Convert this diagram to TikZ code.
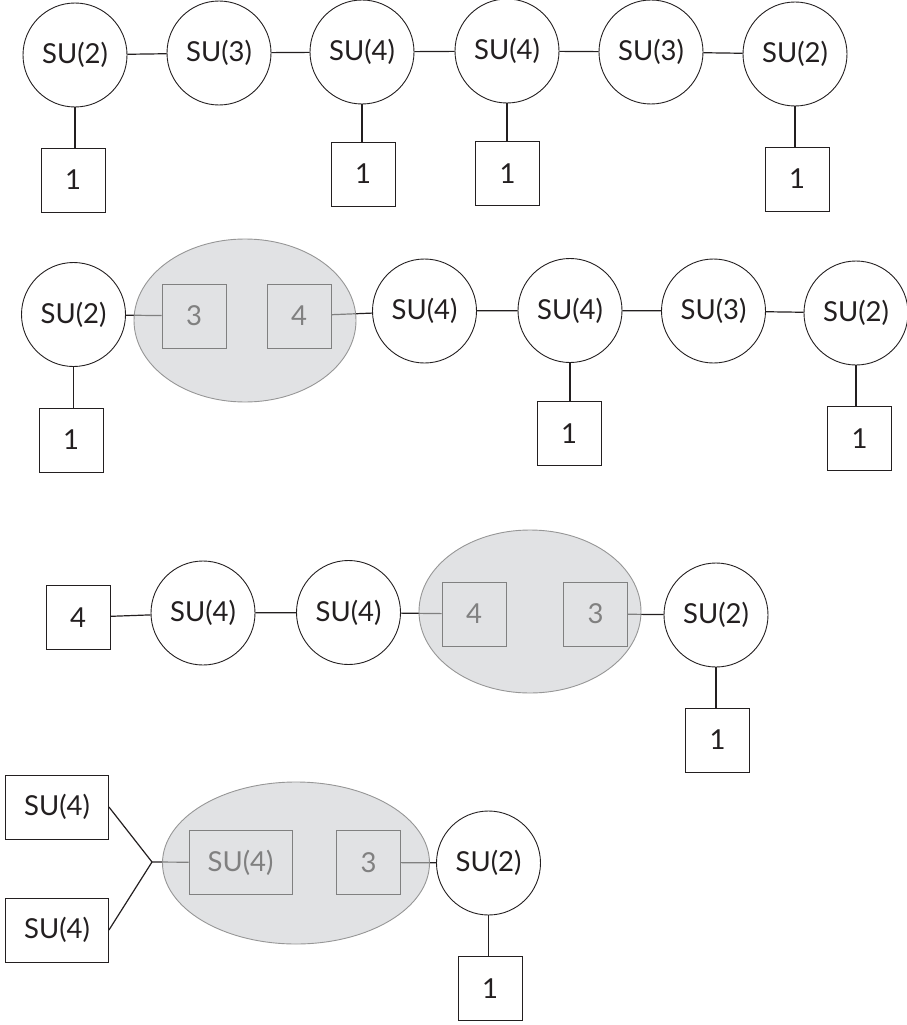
\documentclass[tikz,border=0pt]{standalone}
\usepackage{fontspec}
\setmainfont{Lato}
\usetikzlibrary{shapes.geometric}
\pgfdeclarelayer{lines}
\pgfdeclarelayer{ellayer}
\pgfdeclarelayer{inner}
\pgfsetlayers{lines,ellayer,inner,main}
\definecolor{ellfill}{RGB}{225,226,228}
\definecolor{elledge}{RGB}{150,150,150}
\definecolor{graybox}{RGB}{128,128,128}
\definecolor{ink}{RGB}{35,31,32}
\tikzset{
  lbl/.style={font=\fontsize{27.5}{30}\selectfont},
  grp/.style={circle,draw=ink,line width=0.9pt,minimum size=104pt,inner sep=0pt,lbl,text=ink},
  flav/.style={rectangle,draw=ink,line width=0.9pt,minimum size=64pt,inner sep=0pt,lbl,text=ink},
  wflav/.style={flav,minimum width=103pt},
  gflav/.style={flav,draw=graybox,text=graybox},
  gwflav/.style={gflav,minimum width=103pt},
  blob/.style={ellipse,fill=ellfill,draw=elledge,line width=0.9pt,inner sep=0pt},
  link/.style={draw=ink,line width=1.2pt},
  glink/.style={draw=graybox,line width=1.2pt},
}
\begin{document}
\begin{tikzpicture}[x=1pt,y=-1pt]
\useasboundingbox (0,0) rectangle (906,1025);

% ---------- Row 1 ----------
\node[grp] (a1) at (75,55) {SU(2)};
\node[grp] (a2) at (219,53) {SU(3)};
\node[grp] (a3) at (362,52) {SU(4)};
\node[grp] (a4) at (507,51) {SU(4)};
\node[grp] (a5) at (651,52) {SU(3)};
\node[grp] (a6) at (795,54) {SU(2)};
\node[flav] (f1) at (73,180) {1};
\node[flav] (f3) at (363,174) {1};
\node[flav] (f4) at (507.5,173.5) {1};
\node[flav] (f6) at (797,179) {1};

% ---------- Row 2 ----------
\node[grp] (b1) at (73.5,314.5) {SU(2)};
\begin{pgfonlayer}{ellayer}
\node[blob,minimum width=222pt,minimum height=163pt] (eB) at (245,320.5) {};
\end{pgfonlayer}
\node[gflav] (q3) at (194,316) {3};
\node[gflav] (q4) at (299,316) {4};
\node[grp] (b4) at (424.5,311) {SU(4)};
\node[grp] (b5) at (570,310.5) {SU(4)};
\node[grp] (b6) at (713.5,311) {SU(3)};
\node[grp] (b7) at (856,313) {SU(2)};
\node[flav] (g1) at (71,440) {1};
\node[flav] (g5) at (569,433.5) {1};
\node[flav] (g7) at (859.5,438.5) {1};

% ---------- Row 3 ----------
\node[flav] (s4) at (78,617.5) {4};
\node[grp] (c1) at (203,613) {SU(4)};
\node[grp] (c2) at (348.5,612.5) {SU(4)};
\begin{pgfonlayer}{ellayer}
\node[blob,minimum width=222pt,minimum height=163pt] (eC) at (530,611.5) {};
\end{pgfonlayer}
\node[gflav] (r4) at (474,614) {4};
\node[gflav] (r3) at (595.5,614) {3};
\node[grp] (c3) at (716,615) {SU(2)};
\node[flav] (h1) at (717.6,740) {1};

% ---------- Row 4 ----------
\node[wflav] (t1) at (57,807) {SU(4)};
\node[wflav] (t2) at (57,930) {SU(4)};
\coordinate (j) at (152,862);
\begin{pgfonlayer}{ellayer}
\node[blob,minimum width=267pt,minimum height=162pt] (eD) at (296,863) {};
\end{pgfonlayer}
\node[gwflav] (u4) at (240.5,862.5) {SU(4)};
\node[gflav] (u3) at (368.7,862.5) {3};
\node[grp] (d1) at (488.5,863) {SU(2)};
\node[flav] (k1) at (490,988.5) {1};

% ---------- connectors (black) ----------
\begin{pgfonlayer}{lines}
\draw[link] (a1) -- (a2);
\draw[link] (a2) -- (a3);
\draw[link] (a3) -- (a4);
\draw[link] (a4) -- (a5);
\draw[link] (a5) -- (a6);
\draw[link] (a1.south) -- (a1.south |- f1.north);
\draw[link] (a3.south) -- (a3.south |- f3.north);
\draw[link] (a4.south) -- (a4.south |- f4.north);
\draw[link] (a6.south) -- (a6.south |- f6.north);

\draw[link] (b1) -- (q3);
\draw[link] (q4) -- (b4);
\draw[link] (b4) -- (b5);
\draw[link] (b5) -- (b6);
\draw[link] (b6) -- (b7);
\draw[link] (b1.south) -- (b1.south |- g1.north);
\draw[link] (b5.south) -- (b5.south |- g5.north);
\draw[link] (b7.south) -- (b7.south |- g7.north);

\draw[link] (s4) -- (c1);
\draw[link] (c1) -- (c2);
\draw[link] (c2) -- (r4);
\draw[link] (r3) -- (c3);
\draw[link] (c3.south) -- (c3.south |- h1.north);

\draw[link] (t1.east) -- (j);
\draw[link] (t2.east) -- (j);
\draw[link] (j) -- (u4);
\draw[link] (u3) -- (d1);
\draw[link] (d1.south) -- (d1.south |- k1.north);
\end{pgfonlayer}

% ---------- connectors (grey part inside the blobs) ----------
\begin{pgfonlayer}{inner}
\begin{scope}
\clip (eB.center) ellipse [x radius=111, y radius=81.5];
\draw[glink] (b1) -- (q3);
\draw[glink] (q4) -- (b4);
\end{scope}
\begin{scope}
\clip (eC.center) ellipse [x radius=111, y radius=81.5];
\draw[glink] (c2) -- (r4);
\draw[glink] (r3) -- (c3);
\end{scope}
\begin{scope}
\clip (eD.center) ellipse [x radius=133.5, y radius=81];
\draw[glink] (j) -- (u4);
\draw[glink] (u3) -- (d1);
\end{scope}
\end{pgfonlayer}
\end{tikzpicture}
\end{document}
